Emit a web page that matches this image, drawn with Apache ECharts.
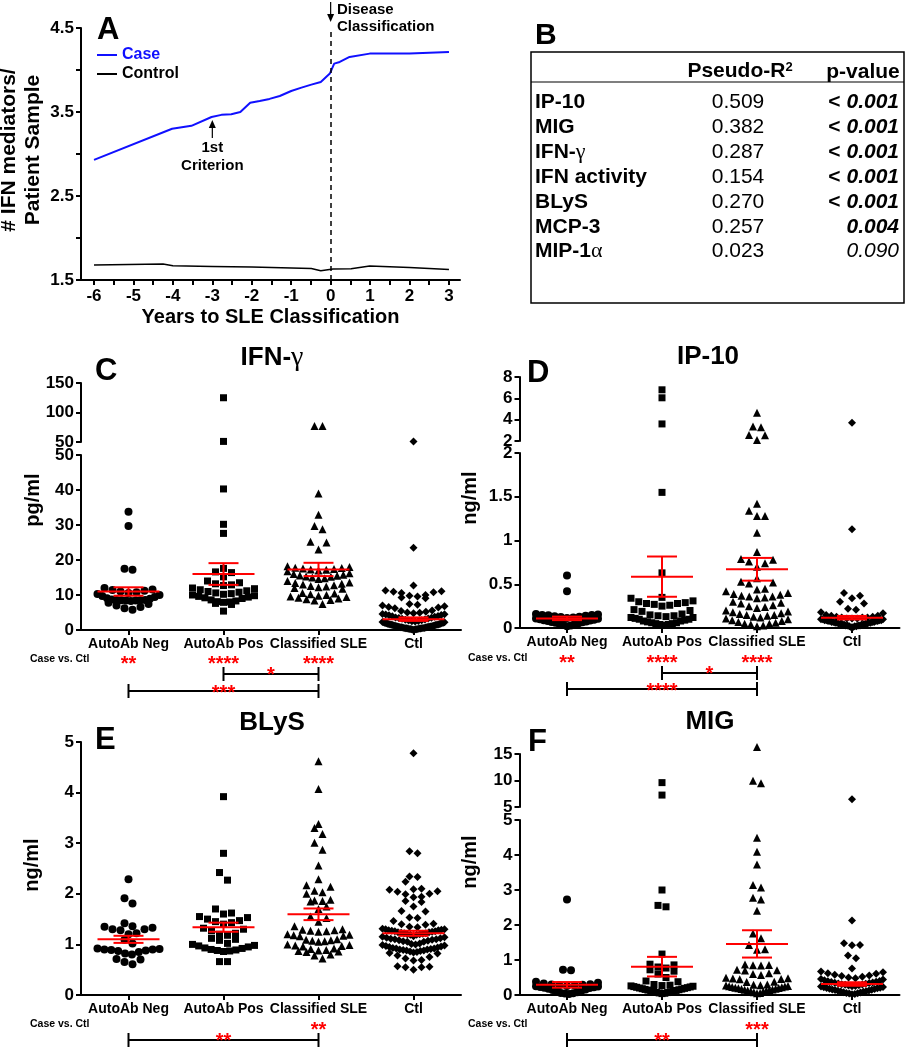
<!DOCTYPE html>
<html><head><meta charset="utf-8">
<script src="https://cdn.jsdelivr.net/npm/echarts@6/dist/echarts.min.js"></script>
<style>html,body{margin:0;padding:0;background:#fff}#c{width:910px;height:1050px}</style>
</head><body><div id="c"></div>
<script>
// ================= DATA =================
// Panel A
const yearsCase = [-6, -4.02, -3.53, -3.02, -2.77, -2.52, -2.29, -2.04, -1.80, -1.55, -1.29, -1.0, -0.74, -0.49, -0.25, -0.02, 0.09, 0.23, 0.48, 0.99, 2.0, 3.0];
const caseValues = [2.93, 3.30, 3.335, 3.44, 3.466, 3.473, 3.50, 3.61, 3.632, 3.656, 3.69, 3.75, 3.79, 3.826, 3.858, 3.957, 4.076, 4.096, 4.155, 4.195, 4.195, 4.215];
const yearsCtrl = [-6, -4.25, -4.0, -3, -2, -0.49, -0.25, 0.06, 0.52, 0.99, 2, 3];
const ctrlValues = [1.678, 1.69, 1.67, 1.662, 1.654, 1.638, 1.61, 1.63, 1.634, 1.666, 1.65, 1.626];
const xLabelsA = [-6, -5, -4, -3, -2, -1, 0, 1, 2, 3];
const xTicksA = [-6, -5.5, -5, -4.5, -4, -3.5, -3, -2.5, -2, -1.5, -1, -0.5, 0, 0.5, 1, 1.5, 2, 2.5, 3];
const yLabelsA = [1.5, 2.5, 3.5, 4.5];
const yTicksA = [1.5, 2, 2.5, 3, 3.5, 4, 4.5];

// Panel B
const tableRows = ['IP-10', 'MIG', 'IFN-γ', 'IFN activity', 'BLyS', 'MCP-3', 'MIP-1α'];
const pseudoR2 = ['0.509', '0.382', '0.287', '0.154', '0.270', '0.257', '0.023'];
const pValues = ['< 0.001', '< 0.001', '< 0.001', '< 0.001', '< 0.001', '0.004', '0.090'];

// Panels C-F
const categories = ['AutoAb Neg', 'AutoAb Pos', 'Classified SLE', 'Ctl'];

const ifngNeg = [33.8, 29.7, 17.5, 17.2, 12.0, 11.6, 11.4, 11.2, 11.0, 10.8, 10.6, 10.3, 10.0, 9.7, 9.4, 9.1, 8.9, 8.7, 8.6, 8.5, 8.4, 8.4, 8.3, 8.5, 8.6, 7.8, 7.4, 7.0, 6.6, 6.2, 5.8];
const ifngPos = [125, 51, 40.3, 30.2, 27.6, 17.6, 16.6, 16.4, 15.2, 14.0, 13.5, 13.2, 12.9, 12.7, 12.0, 11.8, 11.5, 11.2, 11.0, 10.8, 10.6, 10.4, 10.2, 10.0, 9.8, 9.6, 9.4, 9.2, 9.0, 8.6, 8.3, 8.1, 8.0, 7.9, 7.6, 7.3, 5.4];
const ifngSle = [77, 77, 39, 32.9, 29.7, 28.8, 25.2, 25.0, 23.0, 18.2, 18.0, 17.8, 17.7, 17.6, 17.4, 17.3, 17.2, 17.0, 16.8, 16.2, 16.0, 15.8, 15.6, 15.5, 15.3, 15.2, 15.0, 14.8, 14.6, 14.0, 13.6, 13.4, 13.2, 13.0, 12.8, 12.6, 12.4, 12.2, 12.0, 11.8, 10.6, 10.4, 10.2, 10.0, 9.8, 9.6, 9.4, 9.2, 9.0, 8.8, 8.6, 8.4, 7.4];
const ifngCtl = [51, 23.5, 12.7, 11.3, 11.1, 10.9, 10.8, 10.6, 10.0, 9.8, 9.6, 9.3, 9.1, 7.4, 7.2, 7.0, 6.8, 6.6, 6.4, 6.2, 5.6, 5.4, 5.2, 5.0, 4.9, 4.8, 4.6, 4.5, 4.4, 4.3, 4.2, 4.0, 3.9, 3.8, 3.6, 3.5, 3.4, 3.3, 3.2, 3.0, 2.9, 2.8, 2.7, 2.6, 2.5, 2.4, 2.3, 2.2, 2.1, 2.0, 2.0, 1.9, 1.8, 1.8, 1.7, 1.6, 1.6, 1.5, 1.4, 1.4, 1.3, 1.2, 1.2, 1.1, 1.0, 1.0, 0.9, 0.9, 0.8, 0.8, 0.7, 0.7, 0.6, 0.6, 0.5, 0.5, 0.4, 0.4, 0.3, 0.3, 0.2, 0.2, 0.1, 0.1, 1.7, 1.3, 0.9, 0.6, 0.4, 2.2, 1.5, 1.1, 0.8, 0.5, 0.3, 0.2];
const ifngMean = [11.0, 16.0, 17.3, 3.1];
const ifngSem = [1.2, 3.1, 1.9, 0.5];

const ip10Neg = [0.60, 0.42, 0.16, 0.155, 0.15, 0.15, 0.145, 0.14, 0.135, 0.13, 0.125, 0.12, 0.115, 0.11, 0.105, 0.10, 0.095, 0.09, 0.085, 0.08, 0.075, 0.07, 0.065, 0.06, 0.055, 0.05, 0.045, 0.04, 0.03, 0.02];
const ip10Pos = [6.8, 6.05, 3.6, 1.55, 0.63, 0.35, 0.34, 0.31, 0.30, 0.29, 0.28, 0.28, 0.27, 0.26, 0.25, 0.21, 0.20, 0.19, 0.16, 0.15, 0.14, 0.14, 0.13, 0.12, 0.12, 0.11, 0.10, 0.10, 0.09, 0.08, 0.08, 0.07, 0.06, 0.06, 0.05, 0.05, 0.04, 0.04, 0.03];
const ip10Sle = [4.65, 3.35, 3.30, 2.56, 2.55, 2.09, 1.42, 1.34, 1.28, 1.28, 1.09, 0.87, 0.79, 0.78, 0.76, 0.74, 0.70, 0.57, 0.53, 0.52, 0.51, 0.45, 0.44, 0.42, 0.40, 0.39, 0.38, 0.37, 0.36, 0.36, 0.35, 0.34, 0.30, 0.29, 0.28, 0.26, 0.25, 0.24, 0.23, 0.20, 0.19, 0.18, 0.17, 0.16, 0.15, 0.15, 0.14, 0.13, 0.12, 0.11, 0.10, 0.09, 0.08, 0.07, 0.06, 0.05, 0.05, 0.04, 0.03, 0.02];
const ip10Ctl = [3.72, 1.13, 0.40, 0.37, 0.34, 0.30, 0.28, 0.22, 0.21, 0.18, 0.17, 0.15, 0.14, 0.14, 0.13, 0.13, 0.12, 0.12, 0.12, 0.11, 0.11, 0.11, 0.10, 0.10, 0.10, 0.09, 0.09, 0.09, 0.09, 0.08, 0.08, 0.08, 0.08, 0.07, 0.07, 0.07, 0.07, 0.06, 0.06, 0.06, 0.06, 0.05, 0.05, 0.05, 0.05, 0.04, 0.04, 0.04, 0.04, 0.03, 0.03, 0.03, 0.03, 0.02, 0.02, 0.02, 0.01, 0.01];
const ip10Mean = [0.11, 0.587, 0.671, 0.118];
const ip10Sem = [0.02, 0.23, 0.13, 0.02];

const blysNeg = [2.29, 1.91, 1.81, 1.42, 1.36, 1.35, 1.33, 1.30, 1.30, 1.28, 1.22, 1.20, 1.09, 1.02, 0.92, 0.91, 0.90, 0.90, 0.89, 0.88, 0.87, 0.85, 0.82, 0.80, 0.71, 0.70, 0.65, 0.61];
const blysPos = [3.92, 2.80, 2.42, 2.27, 1.70, 1.62, 1.60, 1.55, 1.53, 1.50, 1.47, 1.45, 1.43, 1.40, 1.32, 1.30, 1.27, 1.22, 1.20, 1.18, 1.12, 1.10, 1.08, 1.02, 1.00, 0.98, 0.97, 0.95, 0.93, 0.92, 0.90, 0.89, 0.88, 0.87, 0.86, 0.66, 0.66];
const blysSle = [4.62, 4.07, 3.38, 3.30, 3.18, 3.01, 2.87, 2.56, 2.29, 2.17, 2.14, 2.06, 2.03, 2.00, 1.88, 1.87, 1.86, 1.85, 1.75, 1.70, 1.55, 1.52, 1.45, 1.36, 1.30, 1.29, 1.28, 1.27, 1.26, 1.25, 1.20, 1.19, 1.18, 1.17, 1.16, 1.10, 1.09, 1.08, 1.07, 1.06, 1.05, 1.00, 0.99, 0.98, 0.97, 0.96, 0.92, 0.91, 0.89, 0.88, 0.87, 0.86, 0.85, 0.80, 0.78, 0.72];
const blysCtl = [4.78, 2.84, 2.80, 2.34, 2.33, 2.24, 2.10, 2.09, 2.08, 2.05, 2.04, 2.00, 1.99, 1.94, 1.93, 1.86, 1.84, 1.75, 1.66, 1.65, 1.53, 1.52, 1.46, 1.41, 1.40, 1.39, 1.35, 1.34,
  1.31, 1.30, 1.30, 1.29, 1.28, 1.28, 1.27, 1.26, 1.26, 1.25, 1.24, 1.24, 1.23, 1.22, 1.22, 1.21, 1.20, 1.20, 1.19, 1.19,
  1.16, 1.15, 1.14, 1.13, 1.12, 1.11, 1.10, 1.10, 1.09, 1.08, 1.07, 1.06, 1.05, 1.05,
  1.02, 1.01, 1.00, 0.99, 0.98, 0.97, 0.96, 0.95, 0.94, 0.93, 0.92, 0.92, 0.91, 0.90, 0.90, 0.89, 0.88, 0.88, 0.87, 0.86, 0.85, 0.84, 0.83, 0.82,
  0.78, 0.75, 0.72, 0.69, 0.68, 0.57, 0.56, 0.55, 0.55, 0.50];
const blysMean = [1.10, 1.34, 1.595, 1.22];
const blysSem = [0.07, 0.09, 0.115, 0.05];

const migNeg = [2.73, 0.72, 0.71, 0.38, 0.35, 0.33, 0.31, 0.30, 0.29, 0.28, 0.27, 0.26, 0.25, 0.24, 0.23, 0.22, 0.21, 0.20, 0.18, 0.16, 0.14, 0.12, 0.10, 0.08, 0.06, 0.05, 0.04, 0.03];
const migPos = [9.6, 7.25, 3.0, 2.56, 2.52, 1.17, 0.88, 0.86, 0.80, 0.77, 0.72, 0.68, 0.60, 0.50, 0.40, 0.38, 0.30, 0.28, 0.27, 0.26, 0.25, 0.24, 0.23, 0.22, 0.21, 0.20, 0.19, 0.18, 0.17, 0.16, 0.15, 0.14, 0.13, 0.12, 0.11, 0.10, 0.09, 0.08, 0.07, 0.06, 0.05, 0.04];
const migSle = [16.3, 9.96, 9.47, 4.49, 4.09, 3.73, 3.14, 3.07, 2.78, 2.73, 2.41, 1.76, 1.62, 1.43, 1.31, 1.29, 0.87, 0.86, 0.85, 0.84, 0.72, 0.71, 0.70, 0.62, 0.60, 0.57, 0.49, 0.48, 0.47, 0.46, 0.45, 0.38, 0.37, 0.30, 0.29, 0.28, 0.27, 0.26, 0.25, 0.24, 0.23, 0.22, 0.21, 0.20, 0.19, 0.18, 0.17, 0.16, 0.15, 0.14, 0.13, 0.12, 0.11, 0.10, 0.08, 0.06, 0.05];
const migCtl = [6.45, 2.13, 1.48, 1.43, 1.42, 1.13, 1.05, 0.76, 0.67, 0.65, 0.62, 0.61, 0.58, 0.56, 0.54, 0.52, 0.50, 0.48, 0.46, 0.44, 0.42, 0.40, 0.39, 0.38, 0.37, 0.36, 0.35, 0.34, 0.33, 0.32, 0.31, 0.30, 0.29, 0.28, 0.27, 0.26, 0.25, 0.24, 0.23, 0.22, 0.21, 0.20, 0.19, 0.18, 0.17, 0.16, 0.15, 0.14, 0.13, 0.12, 0.11, 0.10, 0.09, 0.08, 0.07, 0.06, 0.05, 0.04, 0.03, 0.02];
const migMean = [0.29, 0.81, 1.46, 0.314];
const migSem = [0.08, 0.28, 0.39, 0.05];

// ================= LAYOUT / STYLE =================
const FONT = '"Liberation Sans", Arial, Helvetica, sans-serif';
const SERIF = '"Liberation Serif", "DejaVu Serif", serif';
const RED = '#ff0000';
const BLUE = '#1010ff';
const symbols = ['circle', 'rect', 'triangle', 'diamond'];
const symbolSizes = [8, 7, 8, 8];
const ROW_H = 8, MAX_SP = 8, SWARM_W = 62;

const A = { left: 81, top: 28, width: 379, height: 252, xmin: -6.33, xmax: 3.28, ymin: 1.5, ymax: 4.5 };

const panels = [
  { title: 'IFN-γ', unit: 'pg/ml', groups: [ifngNeg, ifngPos, ifngSle, ifngCtl], mean: ifngMean, sem: ifngSem,
    left: 81, width: 380,
    lower: { top: 455, bottom: 630, min: 0, max: 50, interval: 10 },
    upper: { top: 383, bottom: 442, min: 50, max: 150, interval: 50 },
    letter: ['C', 95, 371], titlePos: [272, 358], unitPos: [33, 500], caseLabel: [30, 659],
    caseStars: ['**', '****', '****', ''], caseY: 659,
    brackets: [{ a: 1, b: 2, y: 674, s: '*', sy: 670 }, { a: 0, b: 2, y: 691, s: '***', sy: 688 }] },
  { title: 'IP-10', unit: 'ng/ml', groups: [ip10Neg, ip10Pos, ip10Sle, ip10Ctl], mean: ip10Mean, sem: ip10Sem,
    left: 519.5, width: 380,
    lower: { top: 453, bottom: 628, min: 0, max: 2, interval: 0.5 },
    upper: { top: 377, bottom: 441, min: 2, max: 8, interval: 2 },
    letter: ['D', 527, 373], titlePos: [708, 357], unitPos: [470, 498], caseLabel: [468, 658],
    caseStars: ['**', '****', '****', ''], caseY: 658,
    brackets: [{ a: 1, b: 2, y: 673, s: '*', sy: 669 }, { a: 0, b: 2, y: 689, s: '****', sy: 686 }] },
  { title: 'BLyS', unit: 'ng/ml', groups: [blysNeg, blysPos, blysSle, blysCtl], mean: blysMean, sem: blysSem,
    left: 81, width: 380,
    lower: { top: 742, bottom: 995, min: 0, max: 5, interval: 1 },
    upper: null,
    letter: ['E', 95, 740], titlePos: [272, 723], unitPos: [32, 865], caseLabel: [30, 1024],
    caseStars: ['', '', '**', ''], caseY: 1025,
    brackets: [{ a: 0, b: 2, y: 1040, s: '**', sy: 1036 }] },
  { title: 'MIG', unit: 'ng/ml', groups: [migNeg, migPos, migSle, migCtl], mean: migMean, sem: migSem,
    left: 519.5, width: 380,
    lower: { top: 820, bottom: 995, min: 0, max: 5, interval: 1 },
    upper: { top: 754, bottom: 807, min: 5, max: 15, interval: 5 },
    letter: ['F', 528, 742], titlePos: [710, 722], unitPos: [470, 862], caseLabel: [468, 1024],
    caseStars: ['', '', '***', ''], caseY: 1025,
    brackets: [{ a: 0, b: 2, y: 1040, s: '**', sy: 1036 }] }
];

// ================= HELPERS =================
function swarm(vals, lower, upper, catPx) {
  const pts = vals.map(v => {
    const up = !!(upper && v > upper.min);
    const s = up ? upper : lower;
    const ppu = (s.bottom - s.top) / (s.max - s.min);
    return { v, up, py: s.bottom - (v - s.min) * ppu };
  }).sort((a, b) => a.v - b.v);
  const out = [];
  let i = 0;
  while (i < pts.length) {
    let j = i;
    while (j + 1 < pts.length && pts[j + 1].up === pts[i].up && pts[i].py - pts[j + 1].py < ROW_H) j++;
    const n = j - i + 1;
    const sp = n > 1 ? Math.min(MAX_SP, SWARM_W / (n - 1)) : 0;
    for (let k = 0; k < n; k++) {
      let slot;
      if (n % 2 === 1) slot = k === 0 ? 0 : (k % 2 === 1 ? (k + 1) / 2 : -k / 2);
      else slot = (k % 2 === 0 ? 1 : -1) * (Math.floor(k / 2) + 0.5);
      out.push({ v: pts[i + k].v, up: pts[i + k].up, off: slot * sp / catPx });
    }
    i = j + 1;
  }
  return out;
}
function txt(x, y, text, o) {
  o = o || {};
  return { type: 'text', x, y, rotation: o.rot || 0, z: 50,
    style: { text, fill: o.color || '#000', fontSize: o.size || 14, fontWeight: o.weight || 'bold',
      fontStyle: o.style || 'normal', fontFamily: o.family || FONT, align: o.align || 'center',
      verticalAlign: o.va || 'middle', lineHeight: o.lh, rich: o.rich } };
}
function line(x1, y1, x2, y2, w, color, dash) {
  return { type: 'line', z: 50, shape: { x1, y1, x2, y2 }, style: { stroke: color || '#000', lineWidth: w || 2, lineDash: dash } };
}
function greekRich(label) {
  return label.replace(/([α-ω])/g, '{g|$1}').replace(/^([^{]+)/, '{b|$1}').replace(/\}([^{]+)$/, '}{b|$1}');
}
const axPx = v => A.left + (v - A.xmin) / (A.xmax - A.xmin) * A.width;

// ================= BUILD =================
const grids = [], xAxes = [], yAxes = [], series = [], gfx = [];
const axisLineStyle = { color: '#000', width: 2 };
const tickStyle = { color: '#000', width: 2 };
const tickLabel = { color: '#000', fontSize: 17, fontWeight: 'bold', fontFamily: FONT };

// Panel A
grids.push({ left: A.left, top: A.top, width: A.width, height: A.height, containLabel: false, outerBoundsMode: 'none' });
xAxes.push({ type: 'value', gridIndex: 0, min: A.xmin, max: A.xmax,
  axisLine: { onZero: false, lineStyle: axisLineStyle }, splitLine: { show: false },
  axisTick: { length: 5, lineStyle: tickStyle, customValues: xTicksA },
  axisLabel: Object.assign({ customValues: xLabelsA, margin: 8, formatter: v => String(v) }, tickLabel),
  name: 'Years to SLE Classification', nameLocation: 'middle', nameGap: 27,
  nameTextStyle: { color: '#000', fontSize: 20, fontWeight: 'bold', fontFamily: FONT } });
yAxes.push({ type: 'value', gridIndex: 0, min: A.ymin, max: A.ymax,
  axisLine: { show: true, onZero: false, lineStyle: axisLineStyle }, splitLine: { show: false },
  axisTick: { show: true, length: 5, lineStyle: tickStyle, customValues: yTicksA },
  axisLabel: Object.assign({ customValues: yLabelsA, margin: 7, formatter: v => v.toFixed(1) }, tickLabel) });
series.push({ name: 'Case', type: 'line', xAxisIndex: 0, yAxisIndex: 0, symbol: 'none',
  data: yearsCase.map((x, i) => [x, caseValues[i]]), itemStyle: { color: BLUE }, lineStyle: { color: BLUE, width: 2 },
  markLine: { silent: true, symbol: 'none', label: { show: false }, lineStyle: { color: '#000', type: [5, 4], width: 1.5 },
    data: [{ xAxis: 0 }] } });
series.push({ name: 'Control', type: 'line', xAxisIndex: 0, yAxisIndex: 0, symbol: 'none',
  data: yearsCtrl.map((x, i) => [x, ctrlValues[i]]), itemStyle: { color: '#000' }, lineStyle: { color: '#000', width: 1.5 } });

// Panel A annotations
gfx.push(txt(97, 30, 'A', { size: 31, align: 'left' }));
const x0 = axPx(0), x3 = axPx(-3);
gfx.push(line(x0, 2, x0, 16, 1.2));
gfx.push({ type: 'polygon', z: 50, shape: { points: [[x0 - 3.5, 14], [x0 + 3.5, 14], [x0, 22]] }, style: { fill: '#000' } });
gfx.push(txt(337, 18, 'Disease\nClassification', { size: 15, align: 'left', lh: 17 }));
gfx.push(line(x3, 138, x3, 126, 1.2));
gfx.push({ type: 'polygon', z: 50, shape: { points: [[x3 - 3.5, 128], [x3 + 3.5, 128], [x3, 120]] }, style: { fill: '#000' } });
gfx.push(txt(x3, 157, '1st\nCriterion', { size: 15, lh: 18 }));
gfx.push(txt(21, 150, '# IFN mediators/\nPatient Sample', { size: 21, rot: Math.PI / 2, lh: 24 }));

// Panel B table
gfx.push(txt(535, 36, 'B', { size: 30, align: 'left' }));
gfx.push({ type: 'rect', z: 50, shape: { x: 531, y: 52, width: 373, height: 251 }, style: { fill: 'none', stroke: '#000', lineWidth: 1.5 } });
gfx.push(line(531, 82, 904, 82, 1.2));
gfx.push(txt(740, 71, '{h|Pseudo-R}{s|2}', { rich: { h: { fontSize: 21, fontWeight: 'bold', fontFamily: FONT }, s: { fontSize: 13, fontWeight: 'bold', fontFamily: FONT, verticalAlign: 'top' } } }));
gfx.push(txt(863, 72, 'p-value', { size: 21 }));
const rowY = [102, 127, 152, 177, 202, 227, 251];
tableRows.forEach((r, i) => {
  gfx.push(txt(535, rowY[i], greekRich(r), { align: 'left', rich: {
    b: { fontSize: 21, fontWeight: 'bold', fontFamily: FONT },
    g: { fontSize: 22, fontWeight: 'normal', fontFamily: SERIF } } }));
  gfx.push(txt(738, rowY[i], pseudoR2[i], { size: 21, weight: 'normal' }));
  const pv = pValues[i];
  let rt;
  if (pv.startsWith('<')) rt = '{lt|< }{bi|' + pv.slice(2) + '}';
  else if (parseFloat(pv) < 0.05) rt = '{bi|' + pv + '}';
  else rt = '{it|' + pv + '}';
  gfx.push(txt(899, rowY[i], rt, { align: 'right', rich: {
    lt: { fontSize: 21, fontWeight: 'bold', fontFamily: FONT },
    bi: { fontSize: 21, fontWeight: 'bold', fontStyle: 'italic', fontFamily: FONT },
    it: { fontSize: 21, fontWeight: 'normal', fontStyle: 'italic', fontFamily: FONT } } }));
});

// Panels C-F
panels.forEach(p => {
  const catPx = p.width / 4;
  const lo = p.lower, up = p.upper;
  const gLo = grids.length;
  grids.push({ left: p.left, top: lo.top, width: p.width, height: lo.bottom - lo.top, containLabel: false, outerBoundsMode: 'none' });
  xAxes.push({ type: 'value', gridIndex: gLo, min: -0.5, max: 3.5,
    axisLine: { onZero: false, lineStyle: axisLineStyle }, splitLine: { show: false },
    axisTick: { length: 5, lineStyle: tickStyle, customValues: [0, 1, 2, 3] },
    axisLabel: { customValues: [0, 1, 2, 3], formatter: v => categories[Math.round(v)], margin: 7,
      color: '#000', fontSize: 14, fontWeight: 'bold', fontFamily: FONT } });
  yAxes.push({ type: 'value', gridIndex: gLo, min: lo.min, max: lo.max, interval: lo.interval,
    axisLine: { show: true, onZero: false, lineStyle: axisLineStyle }, splitLine: { show: false },
    axisTick: { show: true, length: 5, lineStyle: tickStyle },
    axisLabel: Object.assign({ margin: 7 }, tickLabel) });
  let gUp = -1;
  if (up) {
    gUp = grids.length;
    grids.push({ left: p.left, top: up.top, width: p.width, height: up.bottom - up.top, containLabel: false, outerBoundsMode: 'none' });
    xAxes.push({ type: 'value', gridIndex: gUp, min: -0.5, max: 3.5, show: false });
    yAxes.push({ type: 'value', gridIndex: gUp, min: up.min, max: up.max, interval: up.interval,
      axisLine: { show: true, onZero: false, lineStyle: axisLineStyle }, splitLine: { show: false },
      axisTick: { show: true, length: 5, lineStyle: tickStyle },
      axisLabel: Object.assign({ margin: 7 }, tickLabel) });
  }
  p.groups.forEach((vals, gi) => {
    const pts = swarm(vals, lo, up, catPx);
    const common = { type: 'scatter', symbol: symbols[gi], symbolSize: symbolSizes[gi], silent: true, clip: false,
      itemStyle: { color: '#000', opacity: 1 }, z: 2 };
    series.push(Object.assign({}, common, { xAxisIndex: gLo, yAxisIndex: gLo,
      data: pts.filter(q => !q.up).map(q => [gi + q.off, q.v]) }));
    if (up) series.push(Object.assign({}, common, { xAxisIndex: gUp, yAxisIndex: gUp,
      data: pts.filter(q => q.up).map(q => [gi + q.off, q.v]) }));
  });
  series.push({ type: 'custom', xAxisIndex: gLo, yAxisIndex: gLo, z: 5, silent: true, clip: false,
    data: p.mean.map((m, i) => [i, m, p.sem[i]]), encode: { x: 0, y: 1 },
    renderItem: (params, api) => {
      const x = api.value(0), m = api.value(1), s = api.value(2);
      const c = api.coord([x, m]), t = api.coord([x, m + s]), b = api.coord([x, m - s]);
      const st = { stroke: RED, lineWidth: 2 };
      return { type: 'group', children: [
        { type: 'line', shape: { x1: c[0] - 31, y1: c[1], x2: c[0] + 31, y2: c[1] }, style: st },
        { type: 'line', shape: { x1: c[0] - 15, y1: t[1], x2: c[0] + 15, y2: t[1] }, style: st },
        { type: 'line', shape: { x1: c[0] - 15, y1: b[1], x2: c[0] + 15, y2: b[1] }, style: st },
        { type: 'line', shape: { x1: c[0], y1: t[1], x2: c[0], y2: b[1] }, style: st } ] };
    } });
  // texts
  const cx = i => p.left + (i + 0.5) * catPx;
  gfx.push(txt(p.letter[1], p.letter[2], p.letter[0], { size: 31, align: 'left' }));
  gfx.push(txt(p.titlePos[0], p.titlePos[1], greekRich(p.title), { rich: {
    b: { fontSize: 26, fontWeight: 'bold', fontFamily: FONT },
    g: { fontSize: 28, fontWeight: 'normal', fontFamily: SERIF } } }));
  gfx.push(txt(p.unitPos[0], p.unitPos[1], p.unit, { size: 20, rot: Math.PI / 2 }));
  gfx.push(txt(p.caseLabel[0], p.caseLabel[1], 'Case vs. Ctl', { size: 10.5, align: 'left' }));
  p.caseStars.forEach((s, i) => { if (s) gfx.push(txt(cx(i), p.caseY + 5, s, { size: 20, color: RED })); });
  p.brackets.forEach(b => {
    gfx.push(line(cx(b.a), b.y, cx(b.b), b.y, 2));
    gfx.push(line(cx(b.a), b.y - 7, cx(b.a), b.y + 7, 2));
    gfx.push(line(cx(b.b), b.y - 7, cx(b.b), b.y + 7, 2));
    gfx.push(txt((cx(b.a) + cx(b.b)) / 2, b.sy + 5, b.s, { size: 20, color: RED }));
  });
});

const chart = echarts.init(document.getElementById('c'), null, { renderer: 'canvas', width: 910, height: 1050 });
chart.setOption({
  backgroundColor: '#fff',
  animation: false,
  grid: grids, xAxis: xAxes, yAxis: yAxes, series,
  legend: { left: 92, top: 42, orient: 'vertical', itemWidth: 20, itemHeight: 2, itemGap: 3, icon: 'rect',
    selectedMode: false, textStyle: { color: '#000', fontSize: 16, fontWeight: 'bold', fontFamily: FONT },
    data: [{ name: 'Case', textStyle: { color: BLUE } }, { name: 'Control' }] },
  graphic: { elements: gfx }
});
</script></body></html>
